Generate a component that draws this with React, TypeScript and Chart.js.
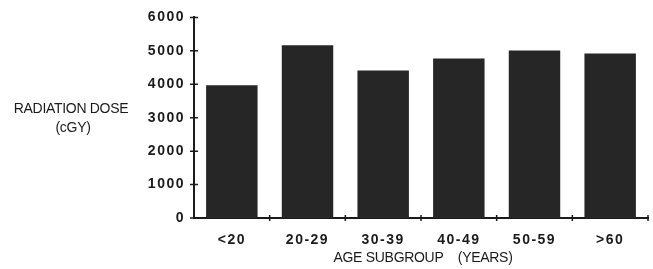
import React, { useEffect, useRef } from 'react';
import { Chart, registerables } from 'chart.js';

Chart.register(...registerables);

const categories = ['<20', '20-29', '30-39', '40-49', '50-59', '>60'];
const doseValues = [3970, 5170, 4410, 4770, 5010, 4920];
const yTickValues = [0, 1000, 2000, 3000, 4000, 5000, 6000];
const xTitle = 'AGE SUBGROUP    (YEARS)';
const yTitleLines = ['RADIATION DOSE', '(cGY)'];

const ink = '#1b1b1b';
const barColor = '#262626';

const spacingPlugin = {
  id: 'tickSpacing',
  beforeDraw(chart: any) {
    chart.ctx.letterSpacing = '1.5px';
  },
  beforeDatasetsDraw(chart: any) {
    chart.ctx.letterSpacing = '0px';
  },
};

const decorPlugin = {
  id: 'decor',
  afterDraw(chart: any) {
    const ctx = chart.ctx;
    const { left, right, bottom } = chart.chartArea;
    const ys = chart.scales.y;
    const xs = chart.scales.x;
    ctx.save();
    ctx.letterSpacing = '0px';
    ctx.strokeStyle = ink;
    ctx.lineWidth = 1.5;
    ctx.beginPath();
    yTickValues.forEach((v) => {
      const y = ys.getPixelForValue(v);
      ctx.moveTo(left - 4, y);
      ctx.lineTo(left + 4, y);
    });
    for (let i = 1; i <= categories.length; i++) {
      const x = xs.getPixelForValue(i - 0.5);
      ctx.moveTo(x, bottom - 3);
      ctx.lineTo(x, bottom + 3);
    }
    ctx.stroke();

    ctx.fillStyle = ink;
    ctx.font = '14px "Liberation Sans", Arial, sans-serif';
    ctx.letterSpacing = '-0.3px';
    ctx.textAlign = 'center';
    ctx.textBaseline = 'middle';
    ctx.fillText(xTitle, (left + right) / 2 + 2, bottom + 40);
    ctx.fillText(yTitleLines[0], 71, 109);
    ctx.fillText(yTitleLines[1], 73, 128);
    ctx.restore();
  },
};

export default function App() {
  const canvasRef = useRef<HTMLCanvasElement | null>(null);

  useEffect(() => {
    if (!canvasRef.current) return;
    const chart = new Chart(canvasRef.current, {
      type: 'bar',
      data: {
        labels: categories,
        datasets: [
          {
            data: doseValues,
            backgroundColor: barColor,
            borderWidth: 0,
            categoryPercentage: 1,
            barPercentage: 0.68,
          },
        ],
      },
      options: {
        animation: false,
        responsive: true,
        maintainAspectRatio: false,
        layout: { padding: { top: 14, right: 5, left: 0, bottom: 0 } },
        plugins: {
          legend: { display: false },
          tooltip: { enabled: false },
          title: { display: false },
        },
        scales: {
          x: {
            offset: true,
            grid: { display: false, drawTicks: false },
            border: { display: true, color: ink, width: 2 },
            ticks: {
              color: ink,
              padding: 14,
              font: { family: '"Liberation Sans", Arial, sans-serif', size: 14, weight: 'bold' },
            },
            afterFit: (scale: any) => {
              scale.height = 51;
            },
          },
          y: {
            min: 0,
            max: 6000,
            afterBuildTicks: (scale: any) => {
              scale.ticks = yTickValues.map((v) => ({ value: v }));
            },
            grid: { display: false, drawTicks: false },
            border: { display: true, color: ink, width: 2 },
            ticks: {
              color: ink,
              padding: 9,
              callback: (v: any) => String(v),
              font: { family: '"Liberation Sans", Arial, sans-serif', size: 14, weight: 'bold' },
            },
            afterFit: (scale: any) => {
              scale.width = 194;
            },
          },
        },
      },
      plugins: [spacingPlugin, decorPlugin],
    });
    return () => chart.destroy();
  }, []);

  return (
    <div style={{ position: 'fixed', left: 0, top: 0, width: 653, height: 269, background: '#fff' }}>
      <canvas ref={canvasRef} />
    </div>
  );
}
